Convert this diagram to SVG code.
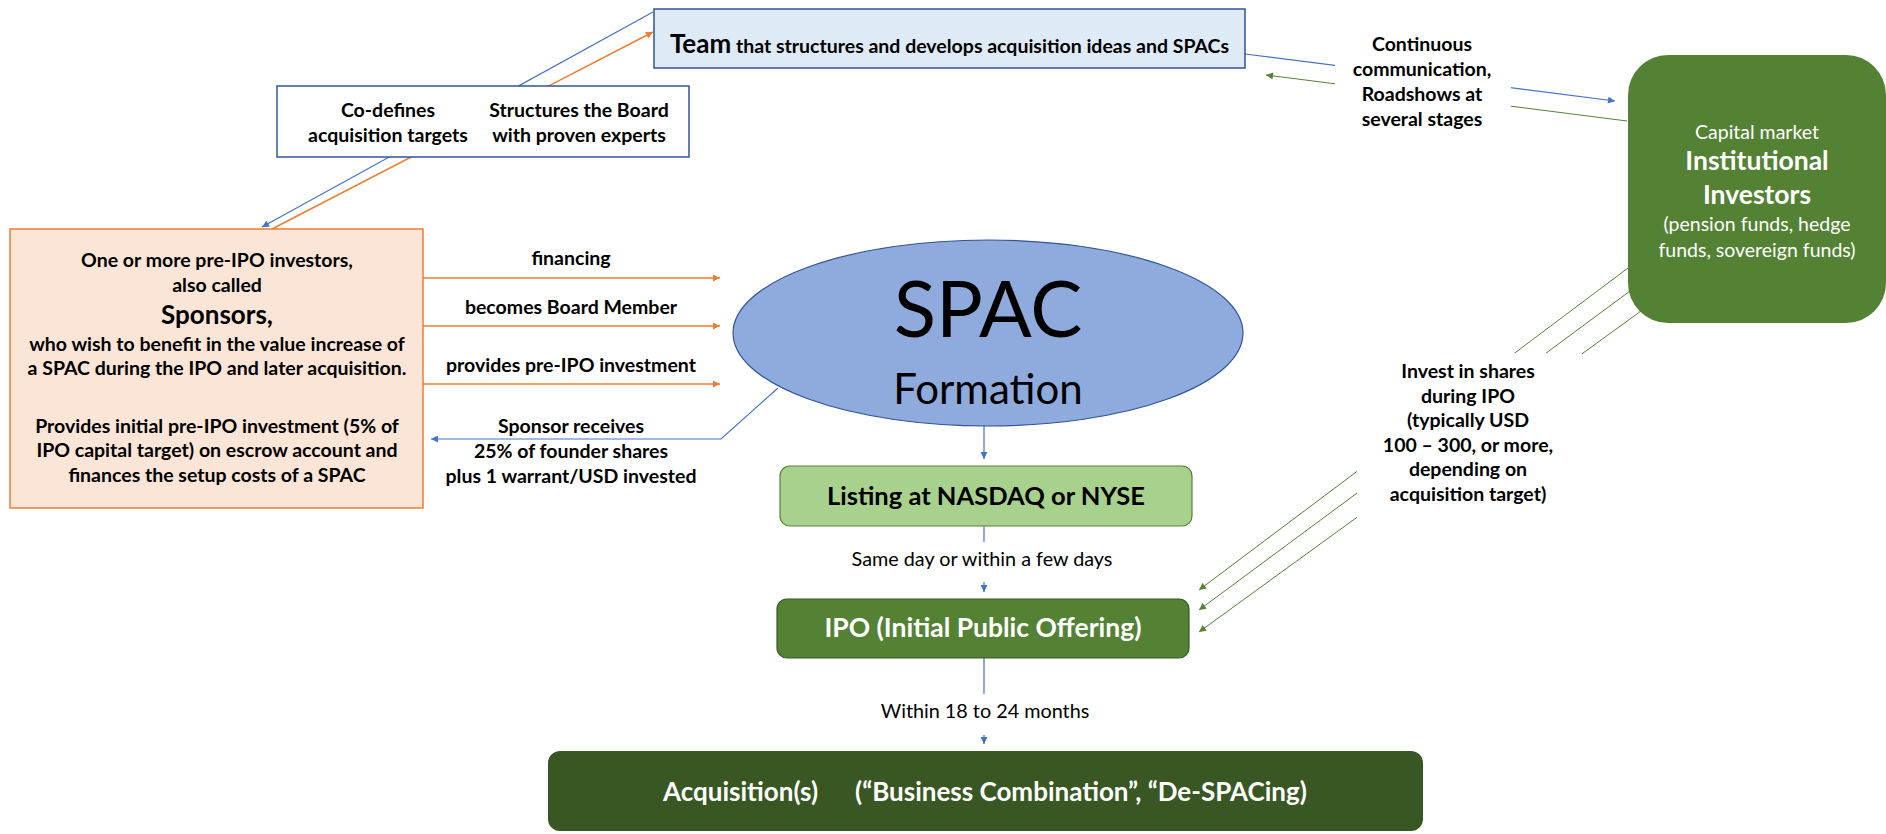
<svg xmlns="http://www.w3.org/2000/svg" width="1886" height="834" viewBox="0 0 1886 834">
<style>
  text { font-family: Lato, "Liberation Sans", sans-serif; fill: #000; }
  .b { font-weight: 700; }
  .r { font-weight: 400; }
  .lbl { font-size: 19.5px; font-weight: 700; text-anchor: middle; }
  .mid { text-anchor: middle; }
  .wt { fill: #fff; }
  .c-or { stroke: #ED7D31; stroke-width: 1.5; fill: none; }
  .c-bl { stroke: #4472C4; stroke-width: 1.2; fill: none; }
  .c-gr { stroke: #548235; stroke-width: 1; fill: none; }
  .bg { fill: #fff; stroke: none; }
</style>
<defs>
  <marker id="aOr" viewBox="0 0 10 10" refX="10" refY="5" markerWidth="8" markerHeight="7" markerUnits="userSpaceOnUse" orient="auto"><path d="M0,0 L10,5 L0,10 z" fill="#ED7D31"/></marker>
  <marker id="aBl" viewBox="0 0 10 10" refX="10" refY="5" markerWidth="8" markerHeight="7" markerUnits="userSpaceOnUse" orient="auto"><path d="M0,0 L10,5 L0,10 z" fill="#4472C4"/></marker>
  <marker id="aGr" viewBox="0 0 10 10" refX="10" refY="5" markerWidth="9" markerHeight="7" markerUnits="userSpaceOnUse" orient="auto"><path d="M0,0 L10,5 L0,10 z" fill="#548235"/></marker>
</defs>

<g id="connectors">
  <line class="c-bl" x1="653" y1="12" x2="262" y2="227" marker-end="url(#aBl)"/>
  <line class="c-or" x1="272" y1="229" x2="653" y2="32" marker-end="url(#aOr)"/>
  <line class="c-bl" x1="1245" y1="54" x2="1615" y2="101" marker-end="url(#aBl)"/>
  <line class="c-gr" x1="1627" y1="121" x2="1266" y2="75" marker-end="url(#aGr)"/>
  <line class="c-or" x1="423" y1="278" x2="720" y2="278" marker-end="url(#aOr)"/>
  <line class="c-or" x1="423" y1="326" x2="720" y2="326" marker-end="url(#aOr)"/>
  <line class="c-or" x1="423" y1="384" x2="720" y2="384" marker-end="url(#aOr)"/>
  <polyline class="c-bl" points="778,388 721,439 431,439" marker-end="url(#aBl)"/>
  <line class="c-bl" x1="984" y1="426" x2="984" y2="459" marker-end="url(#aBl)"/>
  <line class="c-bl" x1="984" y1="526" x2="984" y2="592" marker-end="url(#aBl)"/>
  <line class="c-bl" x1="984" y1="658" x2="984" y2="744" marker-end="url(#aBl)"/>
  <line class="c-gr" x1="1628" y1="268" x2="1199" y2="590" marker-end="url(#aGr)"/>
  <line class="c-gr" x1="1630" y1="291" x2="1199" y2="610" marker-end="url(#aGr)"/>
  <line class="c-gr" x1="1641" y1="311" x2="1199" y2="632" marker-end="url(#aGr)"/>
</g>

<g id="connector-labels">
  <g id="lbl-continuous">
    <rect class="bg" x="1335" y="30" width="176" height="110"/>
    <text class="lbl" x="1422" y="51">Continuous</text>
    <text class="lbl" x="1422" y="76">communication,</text>
    <text class="lbl" x="1422" y="101">Roadshows at</text>
    <text class="lbl" x="1422" y="126">several stages</text>
  </g>
  <g id="lbl-invest">
    <rect class="bg" x="1357" y="353" width="225" height="165"/>
    <text class="lbl" x="1468" y="378">Invest in shares</text>
    <text class="lbl" x="1468" y="402.5">during IPO</text>
    <text class="lbl" x="1468" y="427">(typically USD</text>
    <text class="lbl" x="1468" y="451.5">100 – 300, or more,</text>
    <text class="lbl" x="1468" y="476">depending on</text>
    <text class="lbl" x="1468" y="500.5">acquisition target)</text>
  </g>
  <g id="lbl-sponsor-arrows">
    <text class="lbl" x="571" y="265">financing</text>
    <text class="lbl" x="571" y="314">becomes Board Member</text>
    <text class="lbl" x="571" y="372">provides pre-IPO investment</text>
    <text class="lbl" x="571" y="433">Sponsor receives</text>
    <text class="lbl" x="571" y="458">25% of founder shares</text>
    <text class="lbl" x="571" y="483">plus 1 warrant/USD invested</text>
  </g>
  <g id="lbl-sameday">
    <rect class="bg" x="860" y="542" width="250" height="40"/>
    <text class="r mid" x="982" y="565.5" font-size="19.8">Same day or within a few days</text>
  </g>
  <g id="lbl-within">
    <rect class="bg" x="880" y="694" width="210" height="41"/>
    <text class="r mid" x="985" y="718" font-size="19.8">Within 18 to 24 months</text>
  </g>
</g>

<g id="node-team">
  <rect x="654" y="9" width="591" height="59" fill="#DEEBF7" stroke="#2F5597" stroke-width="1.5"/>
  <text class="b mid" x="949.5" y="53"><tspan font-size="26">Team</tspan><tspan font-size="19.5"> that structures and develops acquisition ideas and SPACs</tspan></text>
</g>

<g id="node-codefines">
  <rect x="277" y="86" width="412" height="71" fill="#fff" stroke="#2F5597" stroke-width="1.5"/>
  <text class="lbl" x="388" y="117">Co-defines</text>
  <text class="lbl" x="388" y="142">acquisition targets</text>
  <text class="lbl" x="579" y="117">Structures the Board</text>
  <text class="lbl" x="579" y="142">with proven experts</text>
</g>

<g id="node-sponsors">
  <rect x="10" y="229" width="413" height="279" fill="#FBE5D6" stroke="#ED7D31" stroke-width="1.5"/>
  <text class="lbl" x="217" y="267">One or more pre-IPO investors,</text>
  <text class="lbl" x="217" y="291.5">also called</text>
  <text class="b mid" x="217" y="324" font-size="26">Sponsors,</text>
  <text class="lbl" x="217" y="351">who wish to benefit in the value increase of</text>
  <text class="lbl" x="217" y="375">a SPAC during the IPO and later acquisition.</text>
  <text class="lbl" x="217" y="432.5">Provides initial pre-IPO investment (5% of</text>
  <text class="lbl" x="217" y="457">IPO capital target) on escrow account and</text>
  <text class="lbl" x="217" y="482">finances the setup costs of a SPAC</text>
</g>

<g id="node-spac">
  <ellipse cx="988" cy="333" rx="255" ry="93" fill="#8FAADC" stroke="#2F5597" stroke-width="1.2"/>
  <text class="r mid" x="988" y="337" font-size="78">SPAC</text>
  <text class="r mid" x="988" y="404" font-size="42">Formation</text>
</g>

<g id="node-listing">
  <rect x="780" y="466" width="412" height="60" rx="10" fill="#A9D18E" stroke="#548235" stroke-width="1.2"/>
  <text class="b mid" x="986" y="505" font-size="25.5">Listing at NASDAQ or NYSE</text>
</g>

<g id="node-ipo">
  <rect x="777" y="599" width="412" height="59" rx="10" fill="#548235" stroke="#385723" stroke-width="1.2"/>
  <text class="b mid wt" x="983" y="637" font-size="26.5">IPO (Initial Public Offering)</text>
</g>

<g id="node-acquisition">
  <rect x="548" y="751" width="875" height="80" rx="12" fill="#385723"/>
  <text class="b wt" y="801" font-size="26"><tspan x="663">Acquisition(s)</tspan><tspan x="855">(“Business Combination”, “De-SPACing)</tspan></text>
</g>

<g id="node-investors">
  <rect x="1628" y="55" width="258" height="268" rx="40" fill="#548235"/>
  <text class="r mid wt" x="1757" y="139" font-size="19.5">Capital market</text>
  <text class="b mid wt" x="1757" y="170" font-size="26.5">Institutional</text>
  <text class="b mid wt" x="1757" y="204" font-size="26.5">Investors</text>
  <text class="r mid wt" x="1757" y="231" font-size="19.5">(pension funds, hedge</text>
  <text class="r mid wt" x="1757" y="257" font-size="19.5">funds, sovereign funds)</text>
</g>
</svg>
